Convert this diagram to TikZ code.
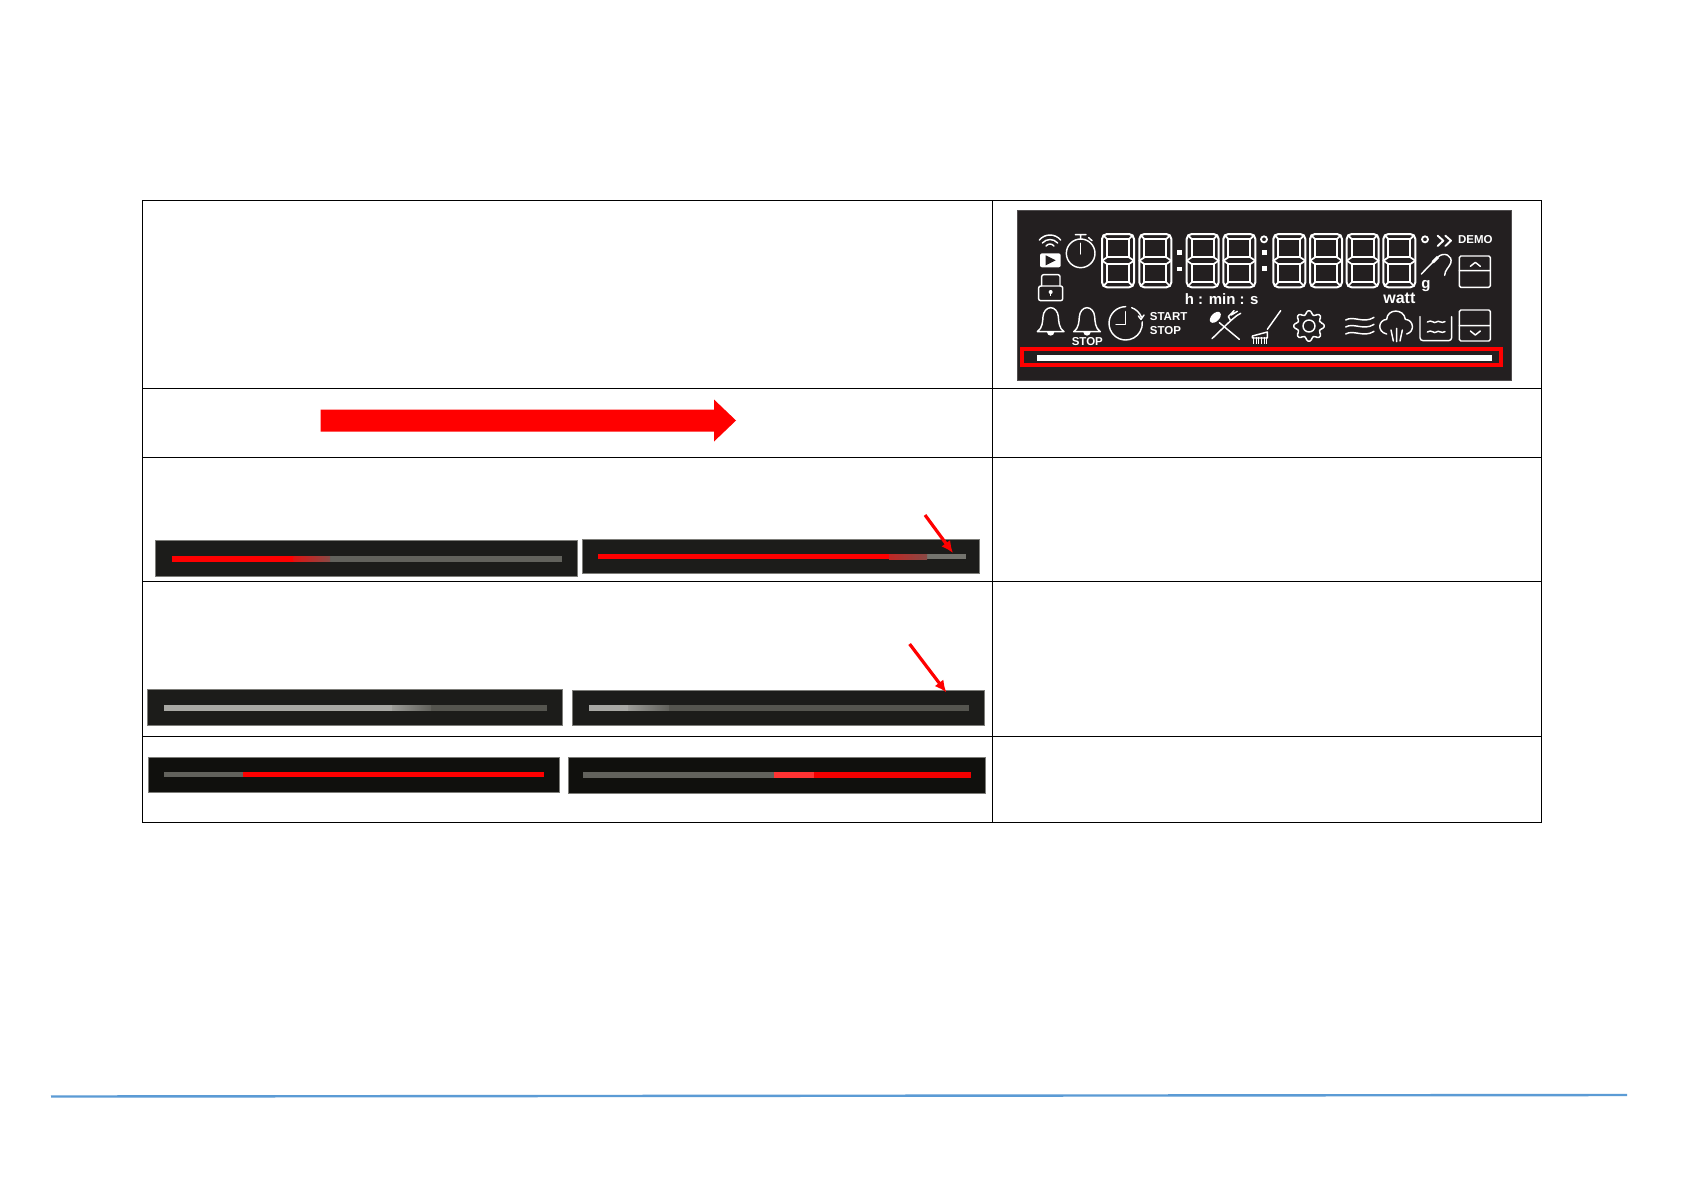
\documentclass[tikz,border=0pt]{standalone}
\usepackage{fontspec}
\setmainfont{Liberation Sans}
\definecolor{panelA}{HTML}{1C1C1A}
\definecolor{panelC}{HTML}{10100D}
\definecolor{panelD}{HTML}{231F20}
\definecolor{edgeg}{HTML}{7C7C78}
\definecolor{barg}{HTML}{62625C}
\definecolor{bargl}{HTML}{74746E}
\definecolor{bardk}{HTML}{55554F}
\definecolor{barlt}{HTML}{A8A8A4}
\definecolor{rulec}{HTML}{5B9BD5}
\newcommand{\segdigit}[2]{%
\begin{scope}[shift={(#1,#2)}]
\draw[icon,line width=2pt,rounded corners=5pt] (0,0) rectangle (96,160);
\draw[icon,line width=1.7pt] (15,15) rectangle (81,70);
\draw[icon,line width=1.7pt] (15,90) rectangle (81,145);
\draw[icon,line width=1.7pt] (15,70) -- (0,80) -- (15,90) (81,70) -- (96,80) -- (81,90);
\draw[icon,line width=1.7pt] (15,15) -- (4,4) (81,15) -- (92,4) (15,145) -- (4,156) (81,145) -- (92,156);
\end{scope}}
\newcommand{\bell}[1]{%
\begin{scope}[shift={(#1,0)}]
\draw[icon] (82,395) .. controls (98,385) and (98,362) .. (99,350) .. controls (100,335) and (110,323) .. (122,323) .. controls (134,323) and (144,335) .. (145,350) .. controls (146,362) and (146,385) .. (162,395) -- cycle;
\fill[white] (111,396) arc (180:0:11) -- cycle;
\end{scope}}
\tikzset{
  gridline/.style={draw=black,line width=0.9pt},
  panelbox/.style={draw=edgeg,line width=0.6pt},
  redpoint/.style={draw=red,line width=3.2pt,-{Latex[length=12pt,width=11pt]}},
  icon/.style={draw=white,line width=1.45pt,line join=round,line cap=round},
  lcdtext/.style={text=white,inner sep=0pt,anchor=center},
}
\usetikzlibrary{arrows.meta}
\begin{document}
\begin{tikzpicture}[x=1pt,y=-1pt]
\useasboundingbox (0,0) rectangle (1684,1191);
\fill[white] (0,0) rectangle (1684,1191);

% table
\draw[gridline] (142,200) rectangle (1541.5,822.7);
\draw[gridline] (992.5,200) -- (992.5,822.7);
\foreach \yy in {388,457.5,581,736} \draw[gridline] (142,\yy) -- (1541.5,\yy);

% big arrow
\fill[red] (320.5,409.5) -- (714,409.5) -- (714,399.5) -- (736,420.5) -- (714,441.5) -- (714,431.5) -- (320.5,431.5) -- cycle;

% row 3 bars
\filldraw[fill=panelA,panelbox] (155.5,540.3) rectangle (577.5,576.7);
\fill[barg] (172,556) rectangle (562,561.7);
\fill[red] (172,556) rectangle (293.6,561.7);
\shade[left color=red!80!barg,right color=barg!75!red] (293.6,556) rectangle (330,561.7);
\filldraw[fill=panelA,panelbox] (582.7,539.3) rectangle (979.5,573.3);
\fill[bargl] (598,554) rectangle (965.6,559.3);
\fill[red] (598,554) rectangle (889,559.3);
\shade[left color=red!60!barg,right color=barg!75!red] (889,554) rectangle (927,559.3);
\coordinate (arrowAs) at (925,515);
\coordinate (arrowAe) at (953,553);
\draw[redpoint] (arrowAs) -- (arrowAe);

% row 4 bars
\filldraw[fill=panelA,panelbox] (147.7,689.3) rectangle (562,725.7);
\fill[bardk] (163.6,705.3) rectangle (547,710.7);
\fill[barlt] (163.6,705.3) rectangle (392,710.7);
\shade[left color=barlt!85!bardk,right color=bardk!85!barlt] (392,705.3) rectangle (431,710.7);
\filldraw[fill=panelA,panelbox] (572.5,690) rectangle (984.5,725.7);
\fill[bardk] (588.7,705.3) rectangle (969.4,710.7);
\fill[barlt] (588.7,705.3) rectangle (628,710.7);
\shade[left color=barlt!85!bardk,right color=bardk!85!barlt] (628,705.3) rectangle (669,710.7);
\coordinate (arrowBs) at (909.6,644);
\coordinate (arrowBe) at (946.4,692.5);
\draw[redpoint] (arrowBs) -- (arrowBe);

% row 5 bars
\filldraw[fill=panelC,panelbox] (148,757.3) rectangle (559.5,792.7);
\fill[barg] (164,772) rectangle (243,777.3);
\fill[red] (243,772) rectangle (544,777.3);
\filldraw[fill=panelC,panelbox] (568,757.3) rectangle (985.5,793.3);
\fill[barg] (583,772) rectangle (773.6,777.7);
\fill[red!80!white] (773.6,772) rectangle (813.6,777.7);
\fill[red!95!black] (813.6,772) rectangle (971,777.7);

% bottom rule
\coordinate (ruleL) at (51,1096.5);
\coordinate (ruleR) at (1627,1095);
\draw[rulec,line width=2.4pt] (ruleL) -- (ruleR);

% LCD panel: inner coordinates are 3x zoom pixels
\begin{scope}[shift={(1010,200)},x=0.33333pt,y=-0.33333pt]
\filldraw[fill=panelD,draw=panelD!80!white,line width=0.5pt] (22,30) rectangle (1505,540);
\foreach \dx in {276,388,530,640,790,900,1010,1120} {\segdigit{\dx}{102}}
% colons
\foreach \px/\py in {508/157,508/207,764/157,764/205} \fill[white] (\px-7,\py-7) rectangle (\px+7,\py+7);
\draw[white,line width=1.8pt] (762,118) circle (9);
\draw[white,line width=1.8pt] (1245,118) circle (9);
% wifi
\draw[icon] (88,120) .. controls (105,100) and (135,100) .. (152,120);
\draw[icon] (97,129) .. controls (110,115) and (130,115) .. (143,129);
\draw[icon] (108,138) .. controls (115,130) and (125,130) .. (132,138);
% play
\fill[white,rounded corners=2pt] (90,160) rectangle (152,202);
\fill[panelD] (107,166) -- (137,181) -- (107,196) -- cycle;
% stopwatch
\draw[icon] (212,160) circle (43);
\draw[icon] (212,130) -- (212,162);
\draw[icon] (196,104) -- (228,104) (212,104) -- (212,117) (236,113) -- (246,122);
% lock
\draw[icon,rounded corners=2pt] (86,258) rectangle (158,302);
\draw[icon,rounded corners=2pt] (95,258) -- (95,224) -- (150,224) -- (150,258);
\fill[white] (122,276) circle (6);
\fill[white] (120,276) rectangle (124,289);
% bells
\bell{0}\bell{109}
% clock
\draw[icon] (347,320) arc (270:-5:50);
\draw[icon] (365,323) arc (290:338:50);
\draw[icon] (385,348) -- (393,358) -- (402,345);
\draw[icon] (347,335) -- (347,373) -- (318,373);
% fork and spoon
\fill[white,rotate around={45:(616,352)}] (616,352) ellipse (20 and 12);
\draw[icon] (628,368) -- (688,418);
\draw[icon] (606,416) -- (662,362);
\draw[icon] (662,362) -- (655,350) -- (672,332) (662,362) -- (680,347) -- (692,340) (664,345) -- (682,334);
% broom
\draw[icon] (772,388) -- (812,332);
\draw[icon] (727,408) -- (772,396) -- (772,414) -- (727,414) -- cycle;
\foreach \bx in {730,738,746,754,762,770} \draw[white,line width=0.9pt] (\bx,412) -- (\bx,431);
% gear
\begin{scope}[shift={(897,378)}]
\draw[icon,rounded corners=1.5pt] (-14:35) \foreach \a in {0,45,...,315} { -- (\a-14:35) -- (\a-9:46) -- (\a+9:46) -- (\a+14:35) } -- cycle;
\draw[icon] (0,0) circle (18);
\end{scope}
% waves
\foreach \wy in {360,381,402} \draw[icon] (1007,\wy) .. controls (1030,\wy-14) and (1062,\wy+12) .. (1092,\wy-8);
% steam cloud
\draw[icon] (1130,402) .. controls (1100,395) and (1105,360) .. (1130,358) .. controls (1132,325) and (1182,325) .. (1186,358) .. controls (1212,360) and (1215,395) .. (1190,402);
\draw[icon] (1143,390) -- (1150,423) (1160,385) -- (1160,425) (1177,390) -- (1170,423);
% tank
\draw[icon,rounded corners=3pt] (1230,350) -- (1230,422) -- (1325,422) -- (1325,350);
\foreach \wy in {366,396} \draw[icon] (1252,\wy) .. controls (1265,\wy-9) and (1272,\wy+7) .. (1279,\wy) .. controls (1286,\wy-7) and (1293,\wy+6) .. (1305,\wy-1);
% up, down
\draw[icon,rounded corners=1.5pt] (1348,168) rectangle (1441,262);
\draw[icon] (1348,212) -- (1441,212) (1381,199) -- (1396,187) -- (1411,199);
\draw[icon,rounded corners=1.5pt] (1348,330) rectangle (1441,423);
\draw[icon] (1348,377) -- (1441,377) (1381,393) -- (1396,405) -- (1411,393);
% chevrons
\draw[icon,line width=1.9pt] (1283,107) -- (1300,122) -- (1283,138) (1306,107) -- (1323,122) -- (1306,138);
% probe
\draw[icon] (1234,222) -- (1268,187);
\draw[white,line width=3pt] (1268,187) -- (1284,171);
\draw[icon] (1284,171) .. controls (1300,155) and (1330,165) .. (1322,190) .. controls (1315,205) and (1305,210) .. (1304,226);
% labels
\node[lcdtext,font=\bfseries\fontsize{15}{15}\selectfont] (hms) at (635,296) {h : min : s};
\node[lcdtext,font=\bfseries\fontsize{16}{16}\selectfont] (watt) at (1168,296) {watt};
\node[lcdtext,font=\bfseries\fontsize{15}{15}\selectfont] (gram) at (1248,258) {g};
\node[lcdtext,font=\bfseries\fontsize{11.5}{11.5}\selectfont] (demo) at (1396,118) {DEMO};
\node[lcdtext,font=\bfseries\fontsize{11.5}{11.5}\selectfont,anchor=west] (start) at (419,351) {START};
\node[lcdtext,font=\bfseries\fontsize{11.5}{11.5}\selectfont,anchor=west] (stopa) at (419,391) {STOP};
\node[lcdtext,font=\bfseries\fontsize{11.5}{11.5}\selectfont] (stopb) at (232,424) {STOP};
% bar
\fill[white] (82,466) rectangle (1447,484);
\draw[red,line width=4pt] (36,447) rectangle (1472,494);
\end{scope}
\end{tikzpicture}
\end{document}
